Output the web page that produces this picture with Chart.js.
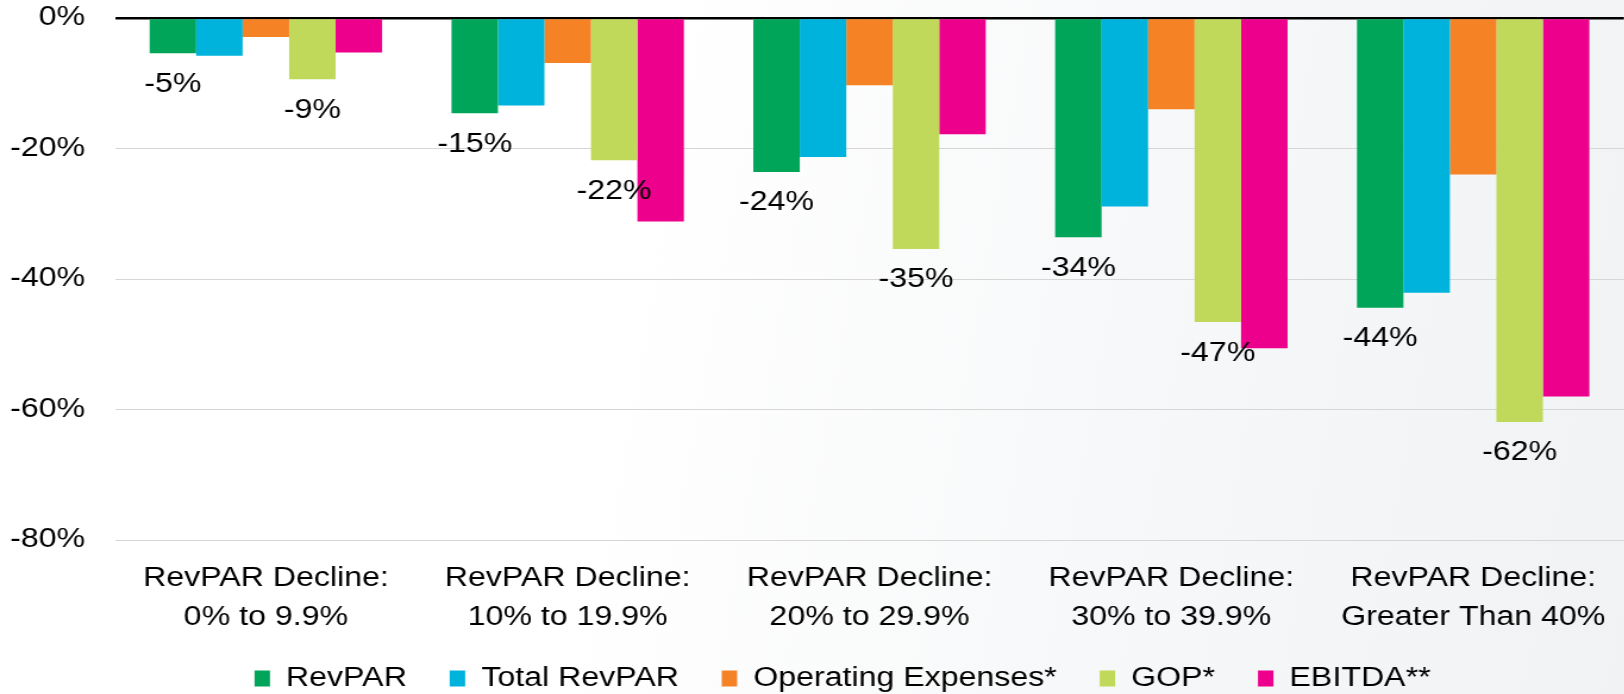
<!DOCTYPE html>
<html lang="en">
<head>
<meta charset="UTF-8">
<title>Decline by RevPAR band</title>
<script src="https://cdn.jsdelivr.net/npm/chart.js@4"></script>
<style>
  html, body { margin: 0; padding: 0; width: 1624px; height: 694px; overflow: hidden; }
  body { background: linear-gradient(100deg, #ffffff 38%, #f7f8f9 68%, #f1f2f3 100%); }
  /* the source chart is stretched sideways, so draw narrow and widen */
  .stretch { width: 1368px; height: 702px; transform: scaleX(1.19); transform-origin: 0 0; }
</style>
</head>
<body>
<div class="stretch"><canvas id="chart" width="1368" height="702"></canvas></div>
<script>
// categories and series
const categories = [
  ['RevPAR Decline:', '0% to 9.9%'],
  ['RevPAR Decline:', '10% to 19.9%'],
  ['RevPAR Decline:', '20% to 29.9%'],
  ['RevPAR Decline:', '30% to 39.9%'],
  ['RevPAR Decline:', 'Greater Than 40%']
];
const revpar            = [-5.4, -14.6, -23.6, -33.6, -44.4];
const totalRevpar       = [-5.8, -13.4, -21.3, -28.9, -42.1];
const operatingExpenses = [-2.9, -6.9, -10.3, -14.0, -24.0];
const gop               = [-9.4, -21.8, -35.4, -46.6, -61.9];
const ebitda            = [-5.3, -31.2, -17.8, -50.6, -58.0];
const yMin = -80;
const yMax = 0;
const yStep = 20;

const FONT = '"Liberation Sans", Arial, sans-serif';

// value labels under RevPAR and GOP bars
const valueLabels = {
  id: 'valueLabels',
  afterLayout(chart) {
    // legend sits a bit right of centre in the original
    chart.legend.left += 24;
    chart.legend.right += 24;
  },
  afterDatasetsDraw(chart) {
    const ctx = chart.ctx;
    ctx.save();
    ctx.font = '27px ' + FONT;
    ctx.fillStyle = '#000';
    ctx.textAlign = 'center';
    ctx.textBaseline = 'middle';
    chart.data.datasets.forEach((ds, i) => {
      if (!ds.showValues) return;
      chart.getDatasetMeta(i).data.forEach((bar, j) => {
        ctx.fillText(Math.round(ds.data[j]) + '%', bar.x, bar.y + 31);
      });
    });
    ctx.restore();
  }
};

new Chart(document.getElementById('chart'), {
  type: 'bar',
  data: {
    labels: categories,
    datasets: [
      { label: 'RevPAR', data: revpar, backgroundColor: '#00A55A', showValues: true },
      { label: 'Total RevPAR', data: totalRevpar, backgroundColor: '#00B3DD' },
      { label: 'Operating Expenses*', data: operatingExpenses, backgroundColor: '#F58225' },
      { label: 'GOP*', data: gop, backgroundColor: '#C1D95A', showValues: true },
      { label: 'EBITDA**', data: ebitda, backgroundColor: '#EC008C' }
    ]
  },
  options: {
    responsive: false,
    animation: false,
    devicePixelRatio: 1,
    layout: { padding: { top: 18, left: 0, right: 0, bottom: 0 } },
    datasets: { bar: { categoryPercentage: 0.77, barPercentage: 1.0, borderWidth: 0 } },
    plugins: {
      legend: {
        position: 'bottom',
        labels: {
          font: { family: FONT, size: 27 },
          color: '#000',
          boxWidth: 13,
          boxHeight: 16,
          padding: 36
        }
      },
      tooltip: { enabled: false }
    },
    scales: {
      x: {
        grid: { display: false, drawTicks: false },
        border: { display: false },
        ticks: {
          color: '#000',
          font: { family: FONT, size: 27, lineHeight: 1.45 },
          padding: 19,
          maxRotation: 0,
          autoSkip: false
        },
        afterFit(scale) { scale.height = 89; }
      },
      y: {
        min: yMin,
        max: yMax,
        grid: {
          drawTicks: false,
          color: c => c.tick.value === 0 ? '#000' : '#d6d6d6',
          lineWidth: c => c.tick.value === 0 ? 2.5 : 1
        },
        border: { display: false },
        ticks: {
          stepSize: yStep,
          color: '#000',
          font: { family: FONT, size: 27 },
          padding: 25,
          callback: v => v + '%'
        },
        afterFit(scale) {
          scale.width = 96.6;
          scale.paddingTop = 0;
          scale.paddingBottom = 0;
        }
      }
    }
  },
  plugins: [valueLabels]
});
</script>
</body>
</html>
